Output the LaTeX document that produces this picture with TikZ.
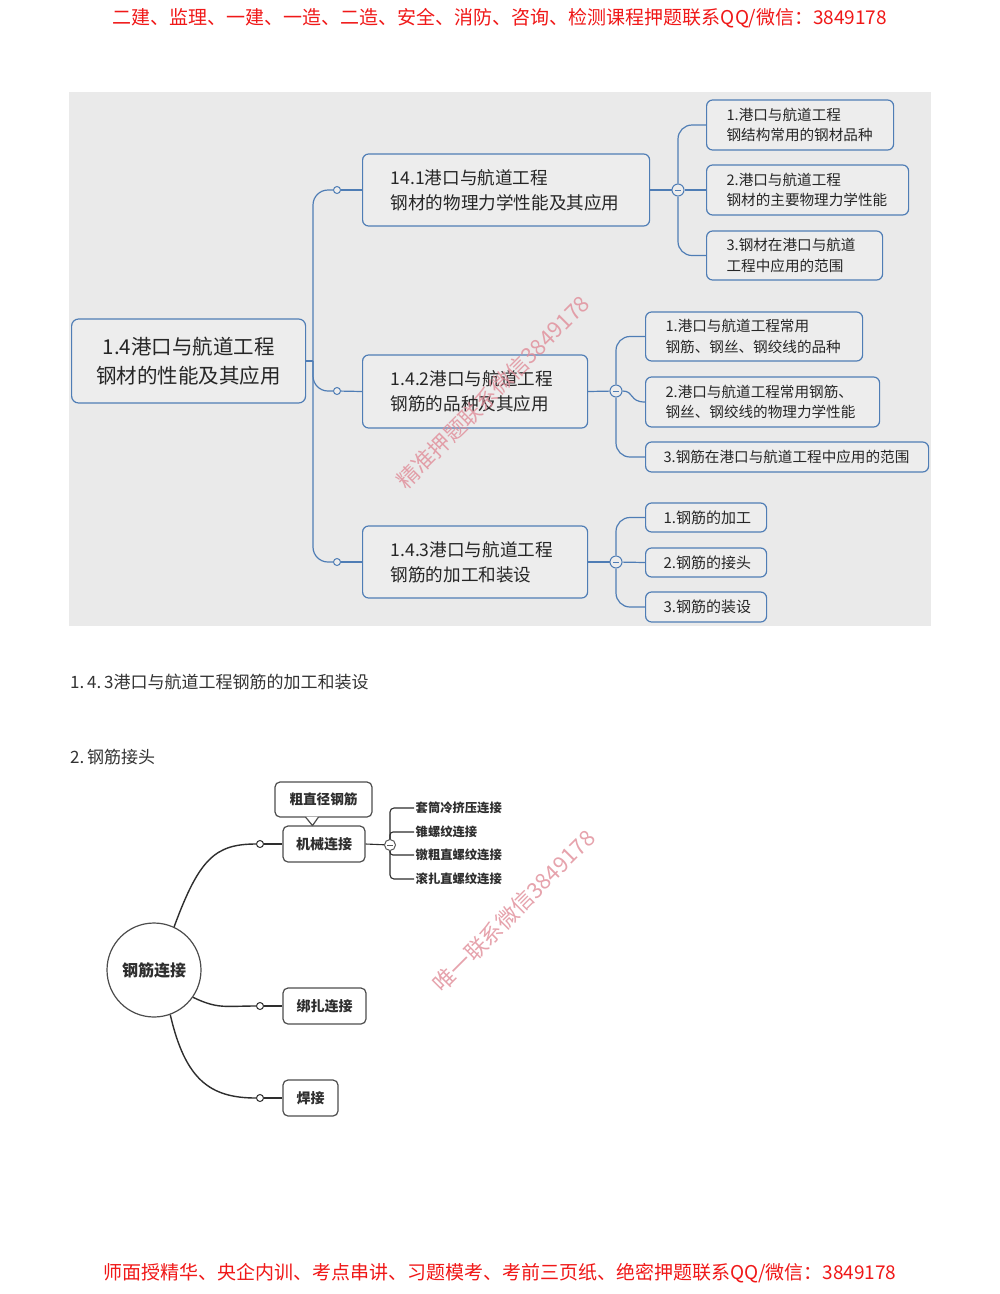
\documentclass[tikz,border=0pt]{standalone}
\usepackage{fontspec}
\newfontfamily\cjk{Noto Sans CJK SC}
\usetikzlibrary{calc}
\definecolor{panel}{HTML}{EAEAEA}
\definecolor{boxfill}{HTML}{EDEDED}
\definecolor{mmblue}{HTML}{4F7DB5}
\definecolor{hdred}{HTML}{F01818}
\definecolor{wm}{HTML}{E08C98}
\definecolor{ink}{HTML}{333333}
\definecolor{dk}{HTML}{2E2E2E}
\begin{document}
\begin{tikzpicture}[x=1pt,y=-1pt,
  every node/.style={font=\cjk},
  mmbox/.style={draw=mmblue, line width=1.2pt, rounded corners=6pt, fill=boxfill, align=left, inner ysep=2pt, text=black!85, anchor=west},
  fa/.style={font=\cjk\fontsize{17.6}{25}\selectfont},
  fb/.style={font=\cjk\fontsize{14.6}{20.5}\selectfont},
  fc/.style={font=\cjk\fontsize{15}{15}\selectfont},
  mmline/.style={draw=mmblue, line width=1.2pt},
  knob/.style={circle, draw=mmblue, fill=boxfill, line width=1pt, inner sep=0pt, minimum size=7pt},
  minus/.style={circle, draw=#1, fill=boxfill, line width=1pt, inner sep=0pt, minimum size=12pt,
    path picture={\draw[#1, line width=1pt] ([xshift=-3pt]path picture bounding box.center) -- ([xshift=3pt]path picture bounding box.center);}},
  gbox/.style={draw=dk!85, line width=1.2pt, rounded corners=5pt, fill=white, inner sep=0pt, minimum height=36pt, text=dk, font=\cjk\bfseries\fontsize{14}{14}\selectfont},
  bline/.style={draw=dk, line width=1.4pt},
  gknob/.style={circle, draw=dk, fill=white, line width=1pt, inner sep=0pt, minimum size=7pt},
  leaf/.style={anchor=west, inner sep=1.5pt, text=dk, font=\cjk\bfseries\fontsize{12.3}{12.3}\selectfont},
  wmark/.style={text=wm, opacity=0.8, rotate=45, font=\cjk\fontsize{22}{22}\selectfont}
]
\useasboundingbox (0,0) rectangle (1000,1294);
\fill[white] (0,0) rectangle (1000,1294);

% header and footer
\node[text=hdred, font=\cjk\fontsize{19}{19}\selectfont] (hdr) at (500,18) {二建、监理、一建、一造、二造、安全、消防、咨询、检测课程押题联系QQ/微信：3849178};
\node[text=hdred, font=\cjk\fontsize{19}{19}\selectfont] (ftr) at (500,1273) {师面授精华、央企内训、考点串讲、习题模考、考前三页纸、绝密押题联系QQ/微信：3849178};

% panel
\fill[panel] (69,92) rectangle (931,626);

% root
\node[mmbox, align=center, minimum width=234pt, minimum height=84pt, rounded corners=7pt, font=\cjk\fontsize{20.5}{29}\selectfont] (root) at (71,361) {1.4港口与航道工程\\钢材的性能及其应用};

% level 2
\node[mmbox, fa, minimum height=72pt, inner xsep=28pt, text width=231pt] (b1) at (362,190) {14.1港口与航道工程\\钢材的物理力学性能及其应用};
\node[mmbox, fa, minimum height=73pt, inner xsep=28pt, text width=169pt] (b2) at (362,391.5) {1.4.2港口与航道工程\\钢筋的品种及其应用};
\node[mmbox, fa, minimum height=72pt, inner xsep=28pt, text width=169pt] (b3) at (362,562) {1.4.3港口与航道工程\\钢筋的加工和装设};

% level 3
\node[mmbox, fb, minimum height=50pt, inner xsep=20pt, text width=147pt] (c1) at (706,125) {1.港口与航道工程\\钢结构常用的钢材品种};
\node[mmbox, fb, minimum height=50pt, inner xsep=20pt, text width=162pt] (c2) at (706,190) {2.港口与航道工程\\钢材的主要物理力学性能};
\node[mmbox, fb, minimum height=49pt, inner xsep=20pt, text width=136pt] (c3) at (706,255.5) {3.钢材在港口与航道\\工程中应用的范围};

\node[mmbox, fb, minimum height=49pt, inner xsep=20pt, text width=177pt] (d1) at (645,336.5) {1.港口与航道工程常用\\钢筋、钢丝、钢绞线的品种};
\node[mmbox, fb, minimum height=50pt, inner xsep=20pt, text width=194pt] (d2) at (645,402) {2.港口与航道工程常用钢筋、\\钢丝、钢绞线的物理力学性能};
\node[mmbox, fb, minimum height=30pt, inner xsep=18pt, text width=247pt] (d3) at (645,457) {3.钢筋在港口与航道工程中应用的范围};

\node[mmbox, fc, minimum height=29pt, inner xsep=18pt, text width=85pt] (e1) at (645,517.5) {1.钢筋的加工};
\node[mmbox, fc, minimum height=29pt, inner xsep=18pt, text width=85pt] (e2) at (645,562.5) {2.钢筋的接头};
\node[mmbox, fc, minimum height=30pt, inner xsep=18pt, text width=85pt] (e3) at (645,607) {3.钢筋的装设};

% knobs and collapse marks
\node[knob] (o1) at (337,190) {};
\node[knob] (o2) at (337,391) {};
\node[knob] (o3) at (337,562) {};
\node[minus=mmblue] (m1) at (678,190) {};
\node[minus=mmblue] (m2) at (616,391) {};
\node[minus=mmblue] (m3) at (616,562) {};

% trunk
\coordinate (tk) at (313,361);
\draw[mmline] (root.east) -- (tk);
\draw[mmline, rounded corners=15pt] (tk) |- (o1);
\draw[mmline, rounded corners=15pt] (tk) |- (o2);
\draw[mmline, rounded corners=15pt] (tk) |- (o3);
\draw[mmline] (o1) -- (b1.west);
\draw[mmline] (o2) -- (b2.west);
\draw[mmline] (o3) -- (b3.west);

\draw[mmline] (b1.east) -- (m1);
\draw[mmline, rounded corners=14pt] (m1.north) |- (c1.west);
\draw[mmline] (m1) -- (c2.west);
\draw[mmline, rounded corners=14pt] (m1.south) |- (c3.west);

\draw[mmline] (b2.east) -- (m2);
\draw[mmline, rounded corners=14pt] (m2.north) |- (d1.west);
\draw[mmline] (m2.east) .. controls +(12,0) and +(-16,0) .. (d2.west);
\draw[mmline, rounded corners=14pt] (m2.south) |- (d3.west);

\draw[mmline] (b3.east) -- (m3);
\draw[mmline, rounded corners=14pt] (m3.north) |- (e1.west);
\draw[mmline] (m3) -- (e2.west);
\draw[mmline, rounded corners=14pt] (m3.south) |- (e3.west);

% watermark 1
\node[wmark] (wm1) at (493,392) {精准押题联系微信3849178};

% text lines
\node[anchor=west, inner sep=0pt, text=ink, font=\cjk\fontsize{17}{17}\selectfont] (l1) at (70,682) {1.\,4.\,3港口与航道工程钢筋的加工和装设};
\node[anchor=west, inner sep=0pt, text=ink, font=\cjk\fontsize{17}{17}\selectfont] (l2) at (70,757) {2.\,钢筋接头};

% bottom diagram
\node[circle, draw=dk!85, line width=1.2pt, fill=white, minimum size=94pt, inner sep=0pt, text=dk, font=\cjk\bfseries\fontsize{16}{16}\selectfont] (jl) at (154,970) {钢筋连接};
\node[gbox, minimum width=82pt] (jx) at (324,844) {机械连接};
\node[gbox, minimum width=83pt] (bz) at (324.5,1006) {绑扎连接};
\node[gbox, minimum width=55pt] (hj) at (310.5,1098) {焊接};
\node[gbox, minimum width=97pt, minimum height=35pt, font=\cjk\bfseries\fontsize{13.6}{13.6}\selectfont] (cz) at (323.5,799.5) {粗直径钢筋};
\fill[white] ([xshift=-18pt,yshift=0.9pt]cz.south) -- ([xshift=-11pt,yshift=-8pt]cz.south) -- ([xshift=-5pt,yshift=0.9pt]cz.south) -- cycle;
\draw[dk!85, line width=1.2pt, line join=round] ([xshift=-18pt,yshift=0.6pt]cz.south) -- ([xshift=-11pt,yshift=-8pt]cz.south) -- ([xshift=-5pt,yshift=0.6pt]cz.south);

\node[gknob] (s1) at (260,844) {};
\node[gknob] (s2) at (260,1006) {};
\node[gknob] (s3) at (260,1098) {};
\node[minus=dk!80, fill=white, minimum size=11pt] (m4) at (390,845) {};

\node[leaf] (t1) at (414,808) {套筒冷挤压连接};
\node[leaf] (t2) at (414,832) {锥螺纹连接};
\node[leaf] (t3) at (414,855) {镦粗直螺纹连接};
\node[leaf] (t4) at (414,879) {滚扎直螺纹连接};

\draw[bline] (jl.65) .. controls +(25,-68) and +(-45,0) .. (s1);
\draw[bline] (s1) -- (jx.west);
\draw[bline] (jl.-35) .. controls +(25,12) and +(-35,0) .. (s2);
\draw[bline] (s2) -- (bz.west);
\draw[bline] (jl.-70) .. controls +(15,65) and +(-50,0) .. (s3);
\draw[bline] (s3) -- (hj.west);

\draw[bline, line width=1.1pt] (jx.east) -- (m4);
\draw[bline, line width=1.1pt, rounded corners=4pt] (m4.north) |- (t1.west);
\draw[bline, line width=1.1pt, rounded corners=3pt] (m4.north) |- (t2.west);
\draw[bline, line width=1.1pt, rounded corners=3pt] (m4.south) |- (t3.west);
\draw[bline, line width=1.1pt, rounded corners=4pt] (m4.south) |- (t4.west);

% watermark 2
\node[wmark] (wm2) at (514,911) {唯一联系微信3849178};
\end{tikzpicture}
\end{document}
